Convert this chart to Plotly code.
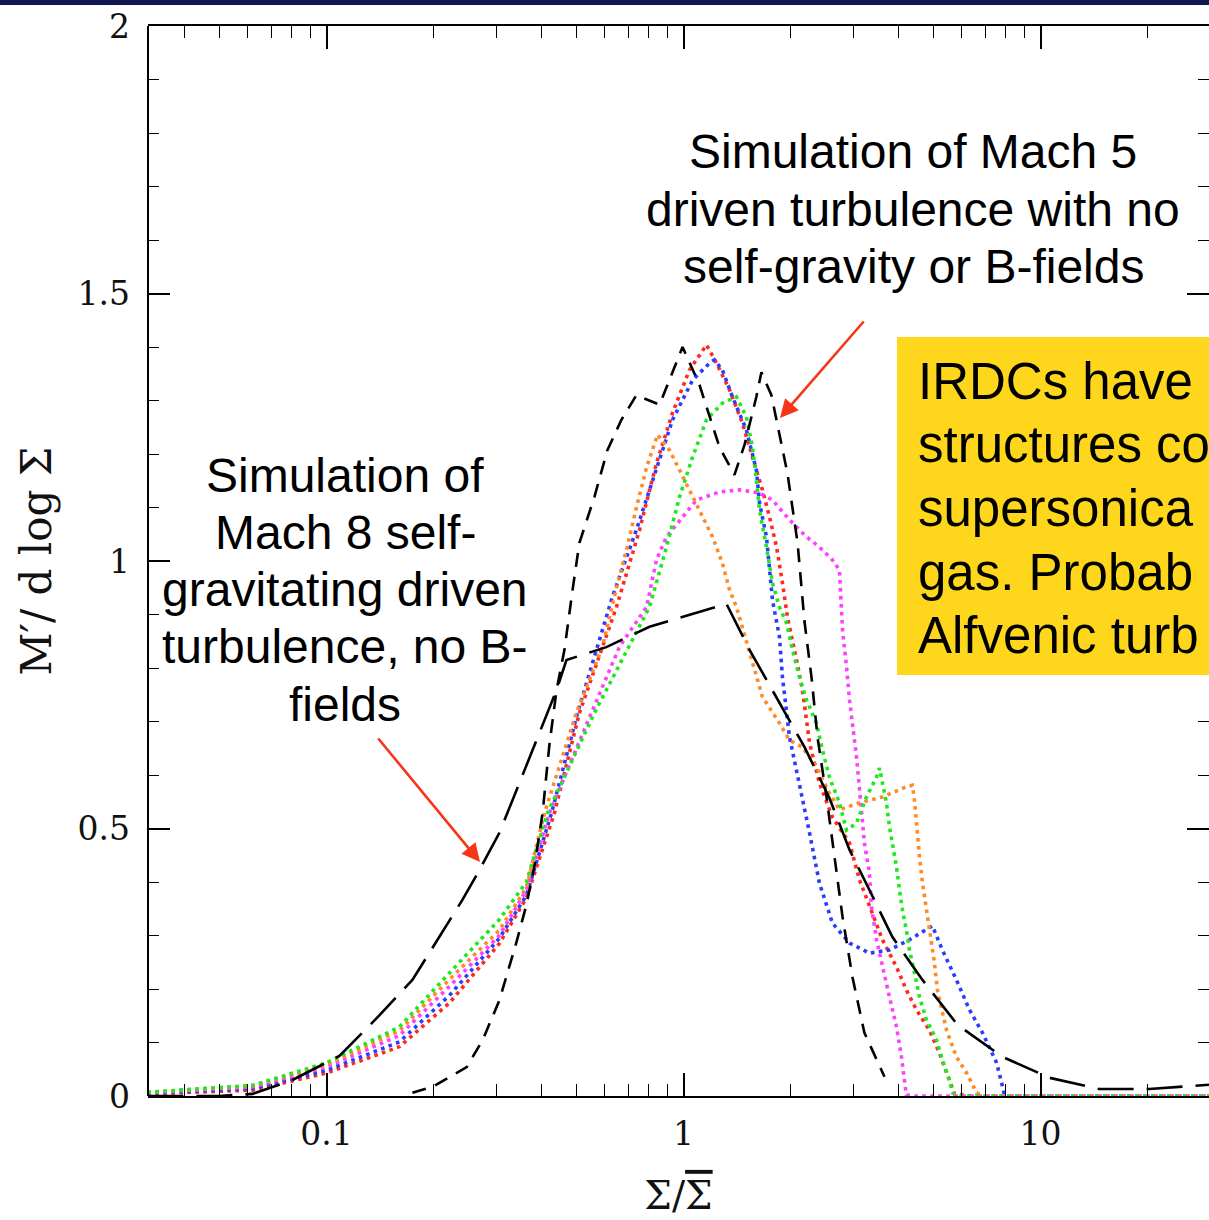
import plotly.graph_objects as go

# ---------------- data ----------------
mach5_x = [0.174,0.198,0.247,0.274,0.305,0.340,0.363,0.383,0.403,0.421,0.441,0.464,0.489,0.511,0.563,0.612,0.670,0.738,0.857,0.994,
           1.109,1.261,1.389,1.482,1.600,1.653,1.763,1.955,2.087,2.183,2.283,2.373,2.515,2.647,2.789,2.974,3.212,3.656]
mach5_y = [0.006,0.017,0.054,0.105,0.179,0.286,0.357,0.432,0.529,0.656,0.759,0.834,0.946,1.034,1.120,1.207,1.264,1.310,1.292,1.400,
           1.329,1.213,1.161,1.217,1.307,1.353,1.310,1.164,1.034,0.886,0.783,0.671,0.559,0.447,0.335,0.222,0.118,0.036]

mach8_x = [0.0315,0.0501,0.0621,0.0803,0.1087,0.1408,0.174,0.240,0.268,0.305,0.347,0.395,0.441,0.470,0.608,0.803,1.319,1.531,1.834,2.183,
           2.563,2.918,3.318,3.848,4.671,5.856,7.832,10.6,14.6,20.2,31]
mach8_y = [0,0,0.004,0.030,0.075,0.151,0.217,0.366,0.422,0.492,0.585,0.679,0.759,0.815,0.839,0.877,0.920,0.834,0.740,0.652,
           0.557,0.460,0.385,0.297,0.217,0.133,0.073,0.034,0.013,0.013,0.022]

red_x = [0.0315,0.0621,0.100,0.160,0.221,0.305,0.363,0.435,0.511,0.649,0.753,0.840,0.932,1.039,1.160,1.237,1.346,1.462,1.560,1.664,1.742,
         1.823,1.893,1.955,2.073,2.154,2.254,2.403,2.614,2.918,3.111,3.383,3.609,3.951,4.210,4.494,4.884,5.212,5.559,5.740,6.33,31]
red_y = [0.004,0.011,0.043,0.092,0.174,0.285,0.370,0.529,0.716,0.914,1.058,1.183,1.277,1.357,1.404,1.370,1.320,1.258,1.194,1.133,1.082,
         1.026,0.959,0.895,0.815,0.759,0.660,0.585,0.521,0.473,0.404,0.342,0.292,0.241,0.198,0.161,0.123,0.080,0.030,0.004,0,0]

blue_x = [0.0315,0.0621,0.100,0.160,0.221,0.305,0.363,0.427,0.505,0.632,0.738,0.840,0.932,1.060,1.183,1.221,1.285,1.371,1.500,1.600,1.633,
          1.708,1.742,1.775,1.857,1.893,1.981,2.113,2.254,2.403,2.614,2.918,3.318,3.775,4.295,4.978,5.311,5.815,6.326,6.880,7.534,7.832,7.933,31]
blue_y = [0.005,0.014,0.048,0.101,0.188,0.295,0.375,0.529,0.716,0.933,1.058,1.170,1.264,1.338,1.370,1.376,1.357,1.307,1.245,1.170,1.108,
          1.045,0.983,0.927,0.858,0.783,0.671,0.585,0.492,0.398,0.323,0.286,0.267,0.273,0.292,0.318,0.273,0.217,0.161,0.118,0.062,0.017,0,0]

green_x = [0.0315,0.0621,0.100,0.160,0.221,0.305,0.363,0.416,0.563,0.706,0.803,0.896,0.975,1.060,1.160,1.285,1.407,1.500,1.560,1.600,1.633,
           1.708,1.775,1.857,1.943,2.019,2.113,2.212,2.358,2.450,2.563,2.734,2.862,3.052,3.255,3.473,3.540,3.609,3.703,3.775,3.848,3.951,
           4.027,4.104,4.210,4.295,4.436,4.582,4.794,5.114,5.311,5.559,5.669,5.93,31]
green_y = [0.007,0.020,0.062,0.129,0.230,0.330,0.400,0.529,0.716,0.840,0.914,1.026,1.120,1.194,1.264,1.295,1.307,1.269,1.213,1.151,1.095,
           1.026,0.959,0.914,0.884,0.834,0.783,0.740,0.697,0.647,0.596,0.548,0.497,0.510,0.559,0.596,0.613,0.585,0.548,0.503,0.473,0.428,
           0.385,0.348,0.310,0.273,0.230,0.185,0.142,0.105,0.067,0.030,0.006,0,0]

magenta_x = [0.0315,0.0621,0.100,0.160,0.221,0.305,0.363,0.421,0.552,0.662,0.788,0.840,0.896,0.994,1.087,1.261,1.435,1.633,1.775,1.981,2.212,
             2.403,2.614,2.734,2.789,2.862,2.918,3.052,3.172,3.212,3.318,3.361,3.473,3.609,3.775,3.951,4.080,4.156,4.210,4.44,31]
magenta_y = [0.006,0.017,0.054,0.113,0.205,0.300,0.385,0.529,0.716,0.840,0.914,1.002,1.045,1.082,1.114,1.129,1.133,1.127,1.114,1.077,1.045,
             1.026,1.002,0.983,0.871,0.802,0.740,0.634,0.521,0.473,0.417,0.353,0.292,0.241,0.185,0.129,0.073,0.030,0.002,0,0]

orange_x = [0.0315,0.0621,0.100,0.160,0.221,0.305,0.363,0.408,0.501,0.593,0.649,0.692,0.738,0.788,0.846,0.914,0.975,1.060,1.130,1.206,1.285,
            1.346,1.407,1.531,1.664,1.857,1.981,2.154,2.358,2.563,2.734,3.111,3.609,4.210,4.376,4.436,4.494,4.582,4.671,4.794,4.884,5.046,
            5.143,5.281,5.455,5.815,6.209,6.622,6.97,31]
orange_y = [0.007,0.019,0.058,0.122,0.218,0.310,0.390,0.529,0.716,0.840,0.950,1.020,1.100,1.175,1.236,1.207,1.170,1.120,1.082,1.045,0.996,
            0.946,0.914,0.828,0.746,0.697,0.665,0.652,0.615,0.566,0.535,0.548,0.559,0.578,0.581,0.553,0.503,0.447,0.398,0.348,0.305,0.249,
            0.198,0.161,0.123,0.073,0.043,0.006,0,0]

x_major_ticks = [0.1, 1, 10]
x_major_text = ["0.1", "1", "10"]
x_minor_ticks = [m * 10.0 ** e for e in (-2, -1, 0, 1) for m in range(2, 10)]

label_mach5 = ["Simulation of Mach 5", "driven turbulence with no", "self-gravity or B-fields"]
label_mach8 = ["Simulation of", "Mach 8 self-", "gravitating driven", "turbulence, no B-", "fields"]
# the reference crops this box at the right edge; only the visible part is reproduced
label_box = ["IRDCs have", "structures co", "supersonica", "gas. Probab", "Alfvenic turb"]

# ---------------- figure ----------------
W, H = 1209, 1220
L, T, B = 148, 26, 124
PW, PH = W - L, H - T - B


def px_x(px):
    return (px - L) / PW


def px_y(py):
    return (H - B - py) / PH


fig = go.Figure()

dot_w = 3.6
dot_dash = "3.6px,4.4px"
for xs, ys, col in [
    (red_x, red_y, "#ff2a1f"),
    (blue_x, blue_y, "#2a3dff"),
    (magenta_x, magenta_y, "#ff40ff"),
    (orange_x, orange_y, "#ff8a2a"),
    (green_x, green_y, "#1ee81e"),
]:
    fig.add_trace(go.Scatter(x=xs, y=ys, mode="lines",
                             line=dict(color=col, width=dot_w, dash=dot_dash),
                             hoverinfo="skip"))

fig.add_trace(go.Scatter(x=mach8_x, y=mach8_y, mode="lines",
                         line=dict(color="black", width=2.6, dash="36px,13px"), hoverinfo="skip"))
fig.add_trace(go.Scatter(x=mach5_x, y=mach5_y, mode="lines",
                         line=dict(color="black", width=2.6, dash="14px,10px"), hoverinfo="skip"))

serif = "DejaVu Serif"
sans = "Liberation Sans, Arial, Helvetica, sans-serif"

fig.update_xaxes(
    type="log", range=[-1.5, -1.5 + PW / 357.0],
    showline=True, linecolor="black", linewidth=2, mirror="ticks",
    ticks="inside", ticklen=23, tickwidth=1.6, tickcolor="black",
    tickmode="array", tickvals=x_major_ticks, ticktext=x_major_text,
    tickfont=dict(family=serif, size=33, color="#111"), ticklabelstandoff=7,
    minor=dict(tickmode="array", tickvals=x_minor_ticks, ticks="inside", ticklen=12,
               tickwidth=1.4, tickcolor="black", showgrid=False),
    showgrid=False, zeroline=False,
    title=dict(text='Σ/<span style="text-decoration:overline">Σ</span>',
               font=dict(family=serif, size=39, color="#111"), standoff=30),
)
fig.update_yaxes(
    range=[0, 2], showline=False, mirror="ticks",
    ticks="inside", ticklen=22, tickwidth=1.6, tickcolor="black",
    tickmode="array", tickvals=[0, 0.5, 1, 1.5, 2], ticktext=["0", "0.5", "1", "1.5", "2"],
    tickfont=dict(family=serif, size=33, color="#111"), ticklabelstandoff=17,
    minor=dict(dtick=0.1, tick0=0, ticks="inside", ticklen=11, tickwidth=1.4, tickcolor="black", showgrid=False),
    showgrid=False, zeroline=False,
    title=dict(text="M′/ d log Σ", font=dict(family=serif, size=42, color="#111"), standoff=12),
)

shapes = [
    # left frame line
    dict(type="line", xref="paper", yref="paper", x0=0, x1=0, y0=0, y1=1,
         line=dict(color="black", width=2)),
    # navy band at top
    dict(type="rect", xref="paper", yref="paper", x0=px_x(-5), x1=px_x(1220), y0=px_y(5), y1=px_y(-5),
         fillcolor="#0f1650", line=dict(width=0), layer="above"),
    # yellow box
    dict(type="rect", xref="paper", yref="paper", x0=px_x(897), x1=px_x(1240), y0=px_y(675), y1=px_y(337),
         fillcolor="#fed61c", line=dict(width=0), layer="above"),
]

annotations = []
for i, t in enumerate(label_mach5):
    annotations.append(dict(text=t, xref="paper", yref="paper", x=px_x(913), y=px_y(152 + 57 * i),
                            xanchor="center", yanchor="middle", showarrow=False,
                            font=dict(family=sans, size=48, color="black")))
for i, t in enumerate(label_mach8):
    annotations.append(dict(text=t, xref="paper", yref="paper", x=px_x(345), y=px_y(475 + 57.3 * i),
                            xanchor="center", yanchor="middle", showarrow=False,
                            font=dict(family=sans, size=48, color="black")))
for i, t in enumerate(label_box):
    annotations.append(dict(text=t, xref="paper", yref="paper", x=px_x(916), y=px_y(381 + 63.7 * i),
                            xanchor="left", yanchor="middle", showarrow=False, align="left",
                            font=dict(family=sans, size=51, color="black")))

# red arrows
for (hx, hy, tx, ty) in [(780, 418, 865, 320), (480, 862, 377, 737)]:
    annotations.append(dict(text="", xref="paper", yref="paper", x=px_x(hx), y=px_y(hy),
                            ax=tx - hx, ay=ty - hy, showarrow=True, arrowhead=2, arrowsize=1.4,
                            arrowwidth=2.6, arrowcolor="#f53617"))

fig.update_layout(
    width=W, height=H, margin=dict(l=L, r=0, t=T, b=B, autoexpand=False),
    plot_bgcolor="white", paper_bgcolor="white", showlegend=False,
    shapes=shapes, annotations=annotations,
)

fig.write_html("out.html")
